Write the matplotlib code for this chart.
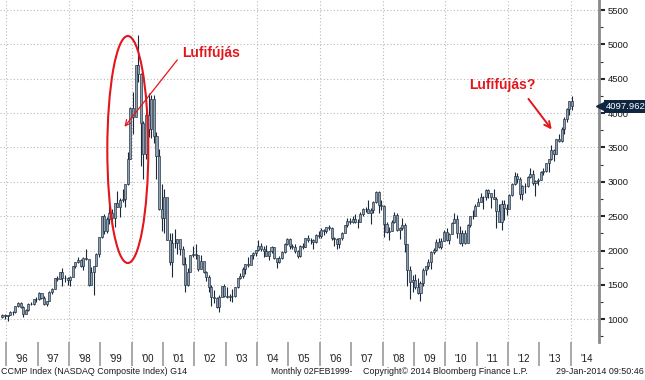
import numpy as np
import matplotlib
matplotlib.use('Agg')
import matplotlib.pyplot as plt
from matplotlib.patches import Ellipse
import matplotlib.transforms as mtransforms

plt.rcParams['font.family'] = ['Liberation Sans', 'DejaVu Sans']

# monthly NASDAQ Composite, Nov 1995 .. Jan 2014
start_year, start_month = 1995, 11
closes = [
    1059, 1052,
    1059, 1100, 1101, 1191, 1243, 1185, 1081, 1141, 1227, 1222, 1293, 1291,
    1380, 1309, 1222, 1261, 1400, 1443, 1594, 1587, 1686, 1594, 1601, 1570,
    1619, 1771, 1835, 1868, 1779, 1895, 1872, 1499, 1694, 1771, 1950, 2193,
    2505, 2288, 2461, 2543, 2471, 2686, 2638, 2739, 2746, 2966, 3336, 4069,
    3940, 4697, 4573, 3861, 3401, 3966, 3767, 4206, 3673, 3370, 2598, 2471,
    2773, 2152, 1840, 2116, 2110, 2161, 2027, 1805, 1499, 1690, 1931, 1950,
    1934, 1731, 1845, 1688, 1616, 1463, 1328, 1315, 1172, 1330, 1479, 1336,
    1321, 1338, 1341, 1464, 1596, 1623, 1735, 1810, 1787, 1932, 1960, 2003,
    2066, 2030, 1994, 1920, 1987, 2048, 1887, 1838, 1897, 1975, 2097, 2175,
    2062, 2052, 1999, 1922, 2068, 2057, 2185, 2152, 2152, 2120, 2233, 2205,
    2306, 2281, 2340, 2323, 2179, 2172, 2091, 2184, 2258, 2367, 2432, 2415,
    2464, 2416, 2422, 2525, 2605, 2603, 2546, 2596, 2702, 2859, 2661, 2652,
    2390, 2271, 2279, 2413, 2523, 2293, 2326, 2368, 2092, 1721, 1536, 1577,
    1476, 1378, 1529, 1717, 1774, 1835, 1979, 2009, 2122, 2045, 2145, 2269,
    2147, 2238, 2398, 2461, 2257, 2109, 2255, 2114, 2369, 2507, 2498, 2653,
    2700, 2782, 2781, 2874, 2835, 2774, 2756, 2579, 2415, 2684, 2620, 2605,
    2814, 2967, 3092, 3046, 2827, 2935, 2940, 3067, 3116, 2977, 3010, 3020,
    3142, 3160, 3268, 3329, 3456, 3403, 3626, 3590, 3771, 3920, 4060, 4177,
    4098,
]
highs = [
    1070, 1070,
    1065, 1118, 1120, 1195, 1250, 1245, 1195, 1150, 1230, 1250, 1295, 1320,
    1390, 1385, 1340, 1265, 1405, 1450, 1595, 1630, 1690, 1745, 1640, 1620,
    1625, 1775, 1840, 1910, 1880, 1900, 2030, 1880, 1760, 1780, 1960, 2200,
    2510, 2530, 2490, 2650, 2600, 2690, 2865, 2760, 2900, 2970, 3430, 4090,
    4300, 4700, 5132, 4580, 3880, 4030, 4290, 4260, 4260, 3720, 3480, 2970,
    2890, 2760, 2250, 2250, 2320, 2170, 2100, 2070, 1900, 1750, 1940, 2060,
    2100, 1920, 1930, 1840, 1700, 1640, 1500, 1430, 1330, 1350, 1490, 1520,
    1470, 1370, 1440, 1470, 1600, 1680, 1760, 1810, 1910, 1940, 1980, 2010,
    2150, 2110, 2060, 2080, 2000, 2070, 2050, 1890, 1920, 1990, 2110, 2180,
    2190, 2100, 2090, 2010, 2080, 2110, 2190, 2220, 2180, 2170, 2240, 2280,
    2330, 2310, 2350, 2375, 2350, 2200, 2190, 2190, 2270, 2370, 2470, 2470,
    2510, 2530, 2460, 2560, 2620, 2640, 2730, 2620, 2720, 2860, 2860, 2730,
    2660, 2420, 2340, 2440, 2560, 2550, 2340, 2470, 2400, 2100, 1780, 1640,
    1660, 1600, 1560, 1740, 1780, 1880, 1990, 2040, 2170, 2190, 2190, 2300,
    2330, 2250, 2420, 2540, 2520, 2360, 2300, 2300, 2380, 2510, 2590, 2680,
    2770, 2840, 2800, 2890, 2890, 2840, 2890, 2780, 2680, 2740, 2730, 2680,
    2820, 2980, 3140, 3130, 3070, 2950, 2990, 3080, 3200, 3170, 3020, 3060,
    3160, 3200, 3270, 3330, 3530, 3480, 3630, 3690, 3800, 3940, 4070, 4180,
    4250,
]
lows = [
    1020, 1005,
    980, 1060, 1060, 1090, 1175, 1160, 1040, 1075, 1115, 1210, 1210, 1245,
    1285, 1290, 1215, 1195, 1260, 1370, 1440, 1560, 1590, 1480, 1540, 1500,
    1480, 1615, 1745, 1820, 1760, 1720, 1870, 1480, 1500, 1350, 1770, 1900,
    2190, 2240, 2260, 2380, 2350, 2340, 2630, 2490, 2700, 2640, 2950, 3330,
    3700, 3990, 4450, 3227, 3040, 3330, 3650, 3640, 3570, 3040, 2590, 2290,
    2250, 2150, 1790, 1620, 2040, 1950, 1930, 1790, 1390, 1480, 1700, 1900,
    1880, 1700, 1730, 1680, 1550, 1400, 1190, 1240, 1160, 1108, 1320, 1330,
    1310, 1270, 1250, 1330, 1460, 1580, 1600, 1660, 1760, 1800, 1880, 1920,
    2000, 2000, 1900, 1920, 1870, 1960, 1880, 1750, 1820, 1880, 1970, 2080,
    2030, 2030, 1970, 1890, 1910, 2030, 2050, 2120, 2100, 2030, 2110, 2190,
    2190, 2230, 2250, 2300, 2160, 2065, 2020, 2040, 2150, 2250, 2350, 2380,
    2400, 2400, 2330, 2410, 2500, 2560, 2540, 2390, 2550, 2690, 2540, 2590,
    2200, 2250, 2160, 2280, 2400, 2290, 2170, 2300, 1980, 1490, 1300, 1400,
    1440, 1370, 1265, 1490, 1640, 1730, 1730, 1950, 1990, 2040, 2020, 2140,
    2140, 2100, 2240, 2400, 2180, 2100, 2060, 2100, 2110, 2350, 2460, 2510,
    2660, 2700, 2600, 2740, 2760, 2620, 2750, 2330, 2440, 2300, 2440, 2520,
    2640, 2790, 2950, 2980, 2750, 2730, 2840, 2930, 3050, 2960, 2800, 2950,
    3030, 3100, 3150, 3150, 3320, 3300, 3400, 3580, 3580, 3700, 3870, 3970,
    4040,
]
first_open = 1036
last_value = 4097.962

year_ticks = list(range(1996, 2015))
year_labels = ["'%02d" % (y % 100) for y in year_ticks]
price_levels = list(range(1000, 6000, 500))

closes = np.array(closes, float)
highs = np.array(highs, float)
lows = np.array(lows, float)
opens = np.r_[first_open, closes[:-1]]   # month opens at previous month's close
t = start_year + (start_month - 0.5) / 12 + np.arange(len(closes)) / 12

fig = plt.figure(figsize=(6.45, 3.8), dpi=100)
ax = fig.add_axes([0, 1 - 342 / 380, 599 / 645, 342 / 380])

wick = '#1b2a3b'
body = '#8f9fb4'
ax.vlines(t, lows, highs, color=wick, lw=0.8, zorder=3)
ax.bar(t, np.abs(closes - opens), bottom=np.minimum(opens, closes), width=0.065,
       color=body, edgecolor=wick, linewidth=0.45, zorder=4)

ax.set_xlim(1995.802, 2014.90)
ax.set_ylim(669.7, 5645.5)

# grid
for y in price_levels:
    ax.axhline(y, color='#b8b8b8', lw=0.8, ls=(0, (1, 2)), zorder=1)
for y in year_ticks[::2]:
    ax.axvline(y, color='#b8b8b8', lw=0.8, ls=(0, (1, 2)), zorder=1)

for s in ['top', 'left', 'bottom']:
    ax.spines[s].set_visible(False)
ax.spines['right'].set_color('#8a8a8a')
ax.spines['right'].set_linewidth(2)

# right price axis
ax.yaxis.tick_right()
ax.set_yticks(price_levels)
ax.set_yticks(range(750, 5750, 250), minor=True)
ax.tick_params(axis='y', which='major', length=4, width=1.5, color='#1b2a3b',
               pad=2, labelsize=6.8, labelcolor='#1a1a1a')
ax.tick_params(axis='y', which='minor', length=3, width=0.8, color='#333333')

# year dividers and labels
ax.set_xticks(year_ticks)
ax.set_xticklabels([])
ax.set_xticks([y + 0.5 for y in year_ticks], minor=True)
ax.set_xticklabels(year_labels, minor=True)
ax.tick_params(axis='x', which='major', length=17, width=1.2, color='#9a9a9a', direction='out')
ax.tick_params(axis='x', which='minor', length=0, pad=9, labelsize=7, labelcolor='#1a1a1a')

# last value box
tr = mtransforms.blended_transform_factory(ax.transAxes, ax.transData)
ax.text(1.011, last_value, '4097.962', transform=tr, ha='left', va='center',
        fontsize=6.8, color='white', zorder=10, clip_on=False,
        bbox=dict(boxstyle='square,pad=0.2', fc='#0e2640', ec='none'))
ax.plot([1.002], [last_value], marker='<', ms=5.5, color='#0e2640', transform=tr,
        clip_on=False, zorder=10)

# annotations
red = '#e3161c'
ax.add_patch(Ellipse((1999.877, 3470), 1.307, 3303, fill=False, ec=red, lw=1.5, zorder=6))
ax.text(2001.596, 4870, 'Lufifújás', color=red, fontsize=10, fontweight='bold',
        ha='left', va='center', zorder=7)
ax.annotate('', xy=(1999.715, 3769), xytext=(2001.51, 4806),
            arrowprops=dict(arrowstyle='->', color=red, lw=0.9, mutation_scale=10), zorder=7)
ax.text(2010.757, 4409, 'Lufifújás?', color=red, fontsize=10, fontweight='bold',
        ha='left', va='center', zorder=7)
ax.annotate('', xy=(2013.446, 3729), xytext=(2012.597, 4239),
            arrowprops=dict(arrowstyle='->', color=red, lw=1.4, mutation_scale=11), zorder=7)

# footer
fy = 1 - 372 / 380
fig.text(1 / 645, fy, 'CCMP Index (NASDAQ Composite Index) G14',
         fontsize=6.4, color='#1a1a1a', va='center', ha='left')
fig.text(271 / 645, fy, 'Monthly 02FEB1999-', fontsize=6.2, color='#1a1a1a',
         va='center', ha='left')
fig.text(363 / 645, fy, 'Copyright© 2014 Bloomberg Finance L.P.', fontsize=6.4,
         color='#1a1a1a', va='center', ha='left')
fig.text(644 / 645, fy, '29-Jan-2014 09:50:46', fontsize=6.4, color='#1a1a1a',
         va='center', ha='right')

fig.savefig('out.png', dpi=100)
